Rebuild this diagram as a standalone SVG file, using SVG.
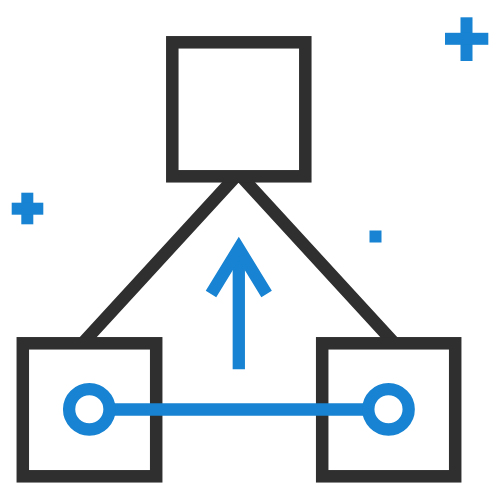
<svg xmlns="http://www.w3.org/2000/svg" width="500" height="500" viewBox="0 0 500 500">
<style>
.dark{fill:#fff;stroke:#2f2f2f;stroke-width:12.5}
.conn{fill:none;stroke:#2f2f2f;stroke-width:12.5;stroke-linejoin:miter}
.blue{fill:none;stroke:#1783d2;stroke-width:12.3}
.bfill{fill:#1783d2}
</style>
<rect width="500" height="500" fill="#fff"/>
<g id="connectors">
<polyline class="conn" points="81,345 238.5,173.4 396,345"/>
</g>
<g id="node-top"><rect class="dark" x="172.3" y="42.3" width="133" height="134"/></g>
<g id="node-left"><rect class="dark" x="22.8" y="343.3" width="133.4" height="133"/></g>
<g id="node-right"><rect class="dark" x="322.2" y="343.3" width="133" height="133"/></g>
<g id="arrow">
<line class="blue" x1="238.8" y1="252" x2="238.8" y2="369.3"/>
<polyline class="blue" points="211,294 238.8,248.5 266.6,294" stroke-linejoin="miter"/>
</g>
<g id="link">
<line class="blue" x1="109" y1="409.5" x2="368.5" y2="409.5"/>
<circle class="blue" cx="89.3" cy="409.3" r="20.2"/>
<circle class="blue" cx="388.5" cy="409.3" r="20.2"/>
</g>
<g id="decor">
<rect class="bfill" x="460.5" y="17.3" width="12" height="43.7"/>
<rect class="bfill" x="445" y="32.8" width="43.3" height="12"/>
<rect class="bfill" x="21.3" y="192.7" width="12" height="31.6"/>
<rect class="bfill" x="11.7" y="202.7" width="31.6" height="12"/>
<rect class="bfill" x="369.5" y="230.5" width="12" height="12"/>
</g>
</svg>
